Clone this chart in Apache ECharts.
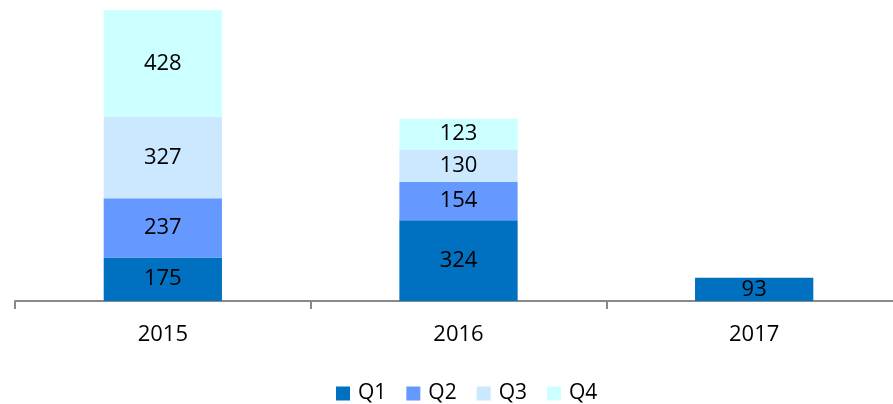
<!DOCTYPE html>
<html>
<head>
<meta charset="utf-8">
<script src="https://cdn.jsdelivr.net/npm/echarts@6/dist/echarts.min.js"></script>
<style>
  html, body { margin: 0; padding: 0; background: #fff; }
  #main { width: 893px; height: 404px; }
</style>
</head>
<body>
<div id="main"></div>
<script>
var years = ['2015', '2016', '2017'];
var q1 = [175, 324, 93];
var q2 = [237, 154, null];
var q3 = [327, 130, null];
var q4 = [428, 123, null];

var chart = echarts.init(document.getElementById('main'));
var font = 'Open Sans';

function bar(name, data, color) {
    return {
        name: name,
        type: 'bar',
        stack: 'total',
        barWidth: '40%',
        data: data,
        itemStyle: { color: color },
        label: {
            show: true,
            position: 'inside',
            color: '#000',
            fontFamily: font,
            fontSize: 22
        }
    };
}

var option = {
    animation: false,
    grid: { left: 15, width: 887, top: 2, height: 299, outerBoundsMode: 'none', containLabel: false },
    legend: {
        top: 378,
        left: 331,
        itemWidth: 14,
        itemHeight: 14,
        itemGap: 20,
        icon: 'rect',
        textStyle: { fontFamily: font, fontSize: 21, color: '#000', padding: [0, 0, 0, 3] },
        data: ['Q1', 'Q2', 'Q3', 'Q4']
    },
    xAxis: {
        type: 'category',
        data: years,
        axisLine: { lineStyle: { color: '#898989', width: 2 } },
        axisTick: { show: true, length: 8, lineStyle: { color: '#898989', width: 2 } },
        axisLabel: { fontFamily: font, fontSize: 22, color: '#000', margin: 23 }
    },
    yAxis: {
        type: 'value',
        min: 0,
        max: 1200,
        show: false,
        splitLine: { show: false }
    },
    series: [
        bar('Q1', q1, '#0070C0'),
        bar('Q2', q2, '#6699FF'),
        bar('Q3', q3, '#CCE8FF'),
        bar('Q4', q4, '#CCFFFF')
    ]
};
chart.setOption(option);
</script>
</body>
</html>
